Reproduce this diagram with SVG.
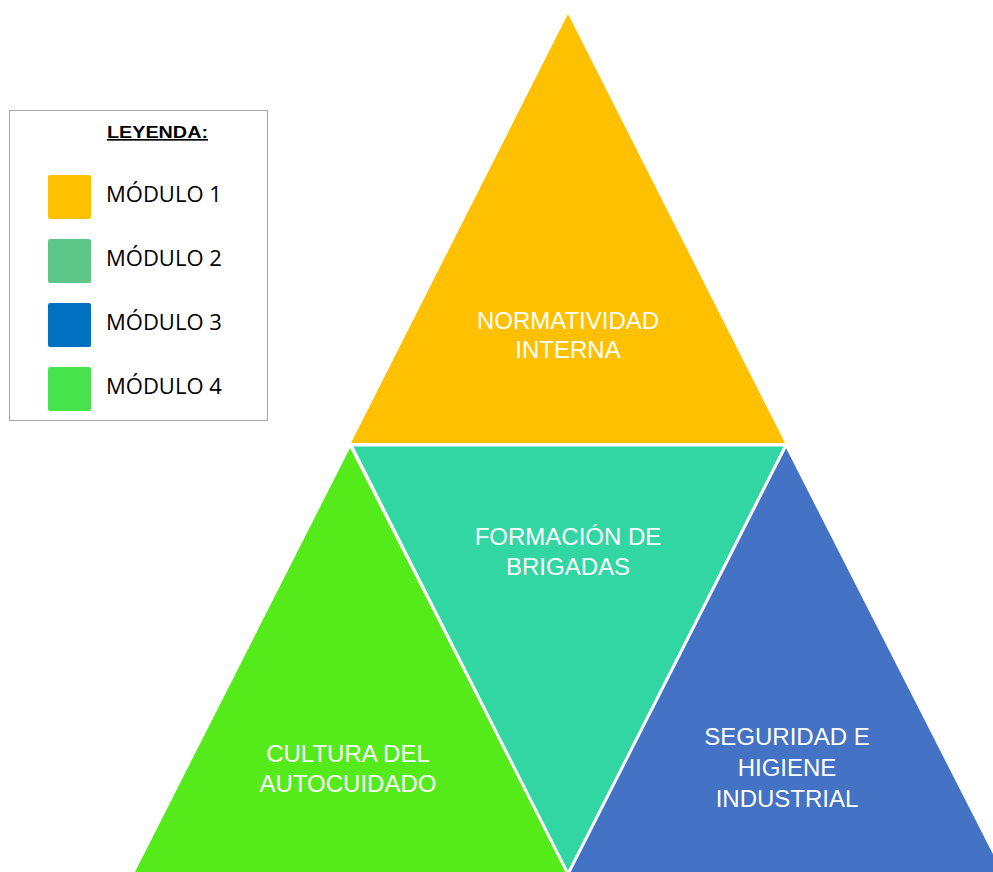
<svg xmlns="http://www.w3.org/2000/svg" width="993" height="872" viewBox="0 0 993 872">
<style>
.lbl{font-family:"Liberation Sans",Arial,sans-serif;font-size:24px;fill:#ffffff;text-anchor:middle}
.leg{font-family:"Open Sans","Liberation Sans",sans-serif;font-size:22px;fill:#000000}
.legt{font-family:"Liberation Sans",Arial,sans-serif;font-size:16.5px;font-weight:bold;fill:#000000;text-decoration:underline}
</style>
<rect width="993" height="872" fill="#ffffff"/>
<g id="legend">
<rect x="9.5" y="110.5" width="258" height="310" fill="#ffffff" stroke="#a6a6a6" stroke-width="1"/>
<text class="legt" x="107" y="138" textLength="101" lengthAdjust="spacingAndGlyphs">LEYENDA:</text>
<rect x="48" y="175" width="43" height="44" rx="2" fill="#FFC000"/>
<text class="leg" x="106" y="202">MÓDULO 1</text>
<rect x="48" y="239" width="43" height="44" rx="2" fill="#5BC687"/>
<text class="leg" x="106" y="266">MÓDULO 2</text>
<rect x="48" y="303" width="43" height="44" rx="2" fill="#0070C0"/>
<text class="leg" x="106" y="330">MÓDULO 3</text>
<rect x="48" y="367" width="43" height="44" rx="2" fill="#46E34D"/>
<text class="leg" x="106" y="394">MÓDULO 4</text>
</g>
<g id="normatividad">
<polygon points="568,14 351,443 785,443" fill="#FFC000"/>
<text class="lbl" x="568" y="329">NORMATIVIDAD</text>
<text class="lbl" x="568" y="358">INTERNA</text>
</g>
<g id="cultura">
<polygon points="350,448 135,872 566,872" fill="#55EA19"/>
<text class="lbl" x="348" y="762">CULTURA DEL</text>
<text class="lbl" x="348" y="792">AUTOCUIDADO</text>
</g>
<g id="seguridad">
<polygon points="786,448 570,872 1002,872" fill="#4472C4"/>
<text class="lbl" x="787" y="745">SEGURIDAD E</text>
<text class="lbl" x="787" y="776">HIGIENE</text>
<text class="lbl" x="787" y="807">INDUSTRIAL</text>
</g>
<g id="formacion">
<polygon points="351,445 786,445 568,874" fill="#31D6A3" stroke="#ffffff" stroke-width="3"/>
<text class="lbl" x="568" y="545">FORMACIÓN DE</text>
<text class="lbl" x="568" y="575">BRIGADAS</text>
</g>
<g id="connectors"/>
</svg>
